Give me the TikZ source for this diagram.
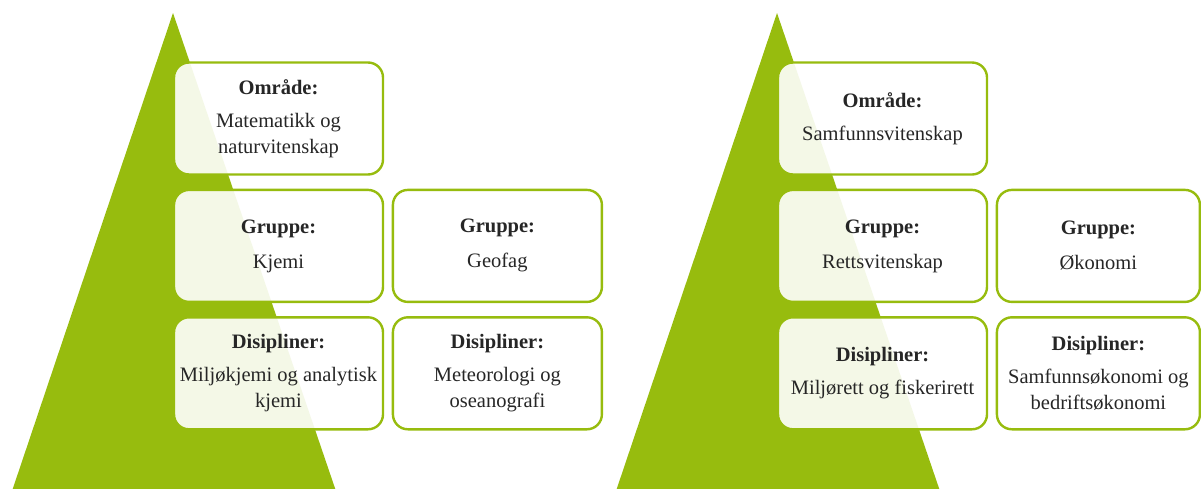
\documentclass[tikz,border=0pt]{standalone}
\usepackage{fontspec}
\setmainfont{Liberation Serif}
\usetikzlibrary{positioning}
\definecolor{lauv}{RGB}{151,188,14}

\begin{document}
\begin{tikzpicture}[x=1pt,y=-1pt,node distance=13pt and 7.5pt,
    felt/.style={draw=lauv, line width=2.4pt, rounded corners=15pt, fill=white,
        fill opacity=0.9, text opacity=1, minimum width=209pt, minimum height=112pt,
        align=center, inner sep=2pt, text=black!85, font=\fontsize{20.5}{26}\selectfont},
    smal/.style={felt, minimum width=203pt}]
            \useasboundingbox (0,0) rectangle (1201,488);

            \fill[lauv] (173,13) -- (10,497) -- (338,497) -- cycle;
            \fill[lauv] (777,13) -- (614,497) -- (942,497) -- cycle;

            \node[felt] (omr1) at (278.5,118.5) {\textbf{Område:}\\[7pt]Matematikk og\\naturvitenskap};
            \node[felt] (grp1) [below = of omr1] {\textbf{Gruppe:}\\[9pt]Kjemi};
            \node[felt] (grp2) [right = of grp1] {\textbf{Gruppe:}\\[9pt]Geofag};
            \node[felt] (dis1) [below = of grp1] {\textbf{Disipliner:}\\[7pt]Miljøkjemi og analytisk\\kjemi};
            \node[felt] (dis2) [right = of dis1] {\textbf{Disipliner:}\\[7pt]Meteorologi og\\oseanografi};

            \node[felt] (omr2) at (882.5,118.5) {\textbf{Område:}\\[7pt]Samfunnsvitenskap};
            \node[felt] (grp3) [below = of omr2] {\textbf{Gruppe:}\\[9pt]Rettsvitenskap};
            \node[smal] (grp4) [right = of grp3] {\textbf{Gruppe:}\\[9pt]Økonomi};
            \node[felt] (dis3) [below = of grp3] {\textbf{Disipliner:}\\[7pt]Miljørett og fiskerirett};
            \node[smal] (dis4) [right = of dis3] {\textbf{Disipliner:}\\[7pt]Samfunnsøkonomi og\\bedriftsøkonomi};
        \end{tikzpicture}
\end{document}
